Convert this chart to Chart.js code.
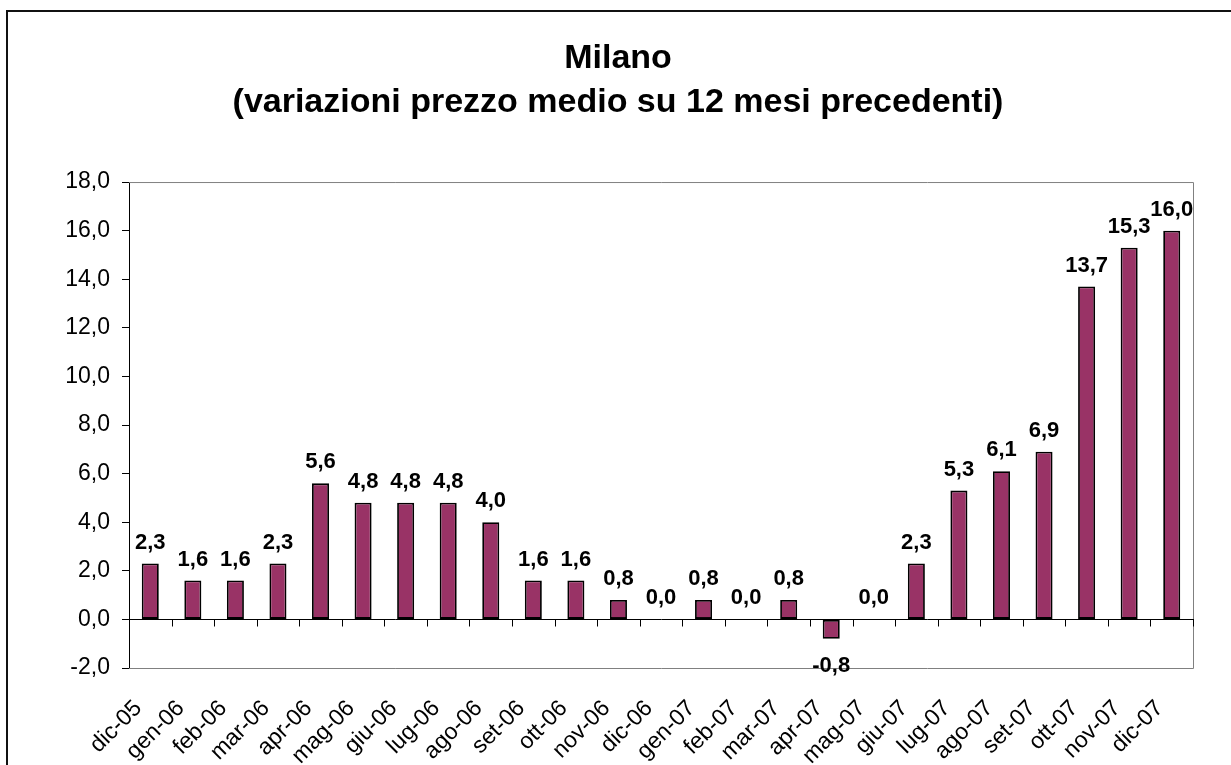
<!DOCTYPE html>
<html>
<head>
<meta charset="utf-8">
<title>Milano</title>
<script src="https://cdn.jsdelivr.net/npm/chart.js@4"></script>
<style>
    html, body { margin: 0; padding: 0; background: #fff; overflow: hidden; }
    #wrap { position: relative; width: 1231px; height: 765px; }
    #frame {
        position: absolute; left: 6px; top: 10px; width: 1400px; height: 900px;
        border-left: 2px solid #111; border-top: 2px solid #111; pointer-events: none;
    }
    canvas { position: absolute; left: 0; top: 0; }
</style>
</head>
<body>
<div id="wrap">
    <canvas id="milanoChart" width="1231" height="765"></canvas>
    <div id="frame"></div>
</div>
<script>
const months = ['dic-05', 'gen-06', 'feb-06', 'mar-06', 'apr-06', 'mag-06', 'giu-06', 'lug-06', 'ago-06',
    'set-06', 'ott-06', 'nov-06', 'dic-06', 'gen-07', 'feb-07', 'mar-07', 'apr-07', 'mag-07', 'giu-07',
    'lug-07', 'ago-07', 'set-07', 'ott-07', 'nov-07', 'dic-07'];
const variazioni = [2.3, 1.6, 1.6, 2.3, 5.6, 4.8, 4.8, 4.8, 4.0, 1.6, 1.6, 0.8, 0.0, 0.8, 0.0, 0.8, -0.8,
    0.0, 2.3, 5.3, 6.1, 6.9, 13.7, 15.3, 16.0];
const titleLines = ['Milano', '(variazioni prezzo medio su 12 mesi precedenti)'];
const yMin = -2;
const yMax = 18;
const yStep = 2;

const FONT = "'Liberation Sans', Arial, sans-serif";
const fmt = v => v.toFixed(1).replace('.', ',');

document.addEventListener('DOMContentLoaded', () => {
    const ctx = document.getElementById('milanoChart').getContext('2d');

    // grey plot frame + black zero line with category ticks
    const frameAndZero = {
        id: 'frameAndZero',
        beforeDatasetsDraw(chart) {
            const { ctx, chartArea: a, scales: { x, y } } = chart;
            ctx.save();
            ctx.strokeStyle = '#808080';
            ctx.lineWidth = 1;
            ctx.beginPath();
            ctx.moveTo(a.left, a.top + 0.5);
            ctx.lineTo(a.right + 0.5, a.top + 0.5);
            ctx.lineTo(a.right + 0.5, a.bottom + 0.5);
            ctx.lineTo(a.left, a.bottom + 0.5);
            ctx.stroke();

            const y0 = Math.round(y.getPixelForValue(0)) + 0.5;
            ctx.strokeStyle = '#000';
            ctx.beginPath();
            ctx.moveTo(a.left, y0);
            ctx.lineTo(a.right + 1, y0);
            const half = (x.getPixelForValue(1) - x.getPixelForValue(0)) / 2;
            for (let i = 0; i <= months.length; i++) {
                const px = Math.round(x.getPixelForValue(i) - half) + 0.5;
                ctx.moveTo(px, y0);
                ctx.lineTo(px, y0 + 7);
            }
            ctx.stroke();
            ctx.restore();
        }
    };

    // value labels above (or below) each bar
    const valueLabels = {
        id: 'valueLabels',
        afterDatasetsDraw(chart) {
            const { ctx } = chart;
            const meta = chart.getDatasetMeta(0);
            ctx.save();
            ctx.font = 'bold 22px ' + FONT;
            ctx.fillStyle = '#000';
            ctx.textAlign = 'center';
            ctx.textBaseline = 'alphabetic';
            meta.data.forEach((bar, i) => {
                const v = variazioni[i];
                const yy = v < 0 ? bar.y + 33 : bar.y - 15;
                ctx.fillText(fmt(v), bar.x, yy);
            });
            ctx.restore();
        }
    };

    new Chart(ctx, {
        type: 'bar',
        data: {
            labels: months,
            datasets: [{
                label: 'Milano',
                data: variazioni,
                backgroundColor: '#993366',
                borderColor: '#000',
                borderWidth: 1.8,
                borderSkipped: false,
                barPercentage: 0.4,
                categoryPercentage: 1.0
            }]
        },
        options: {
            responsive: false,
            animation: false,
            layout: { padding: { left: 5, right: 0, top: 0, bottom: 0 } },
            plugins: {
                legend: { display: false },
                tooltip: { enabled: false },
                title: {
                    display: true,
                    text: titleLines,
                    color: '#000',
                    font: { family: FONT, size: 34, weight: 'bold', lineHeight: 1.28 },
                    padding: { top: 37, bottom: 58 }
                }
            },
            scales: {
                x: {
                    grid: { display: false, drawTicks: false },
                    border: { display: false },
                    ticks: {
                        color: '#000',
                        font: { family: FONT, size: 23 },
                        minRotation: 45,
                        maxRotation: 45,
                        autoSkip: false,
                        labelOffset: -12,
                        padding: 27
                    },
                    afterFit: scale => { scale.height = 97; }
                },
                y: {
                    min: yMin,
                    max: yMax,
                    grid: { drawOnChartArea: false, drawTicks: true, tickLength: 7, color: '#000' },
                    border: { display: true, color: '#000', width: 1 },
                    ticks: {
                        stepSize: yStep,
                        color: '#000',
                        font: { family: FONT, size: 23 },
                        padding: 12,
                        callback: v => fmt(v)
                    },
                    afterFit: scale => { scale.width = 124; }
                },
                // empty right-hand box so the plot ends at the same place as the original
                yRight: {
                    position: 'right',
                    display: true,
                    min: yMin,
                    max: yMax,
                    grid: { display: false },
                    border: { display: false },
                    ticks: { display: false },
                    afterFit: scale => { scale.width = 38; }
                }
            }
        },
        plugins: [frameAndZero, valueLabels]
    });
});
</script>
</body>
</html>
